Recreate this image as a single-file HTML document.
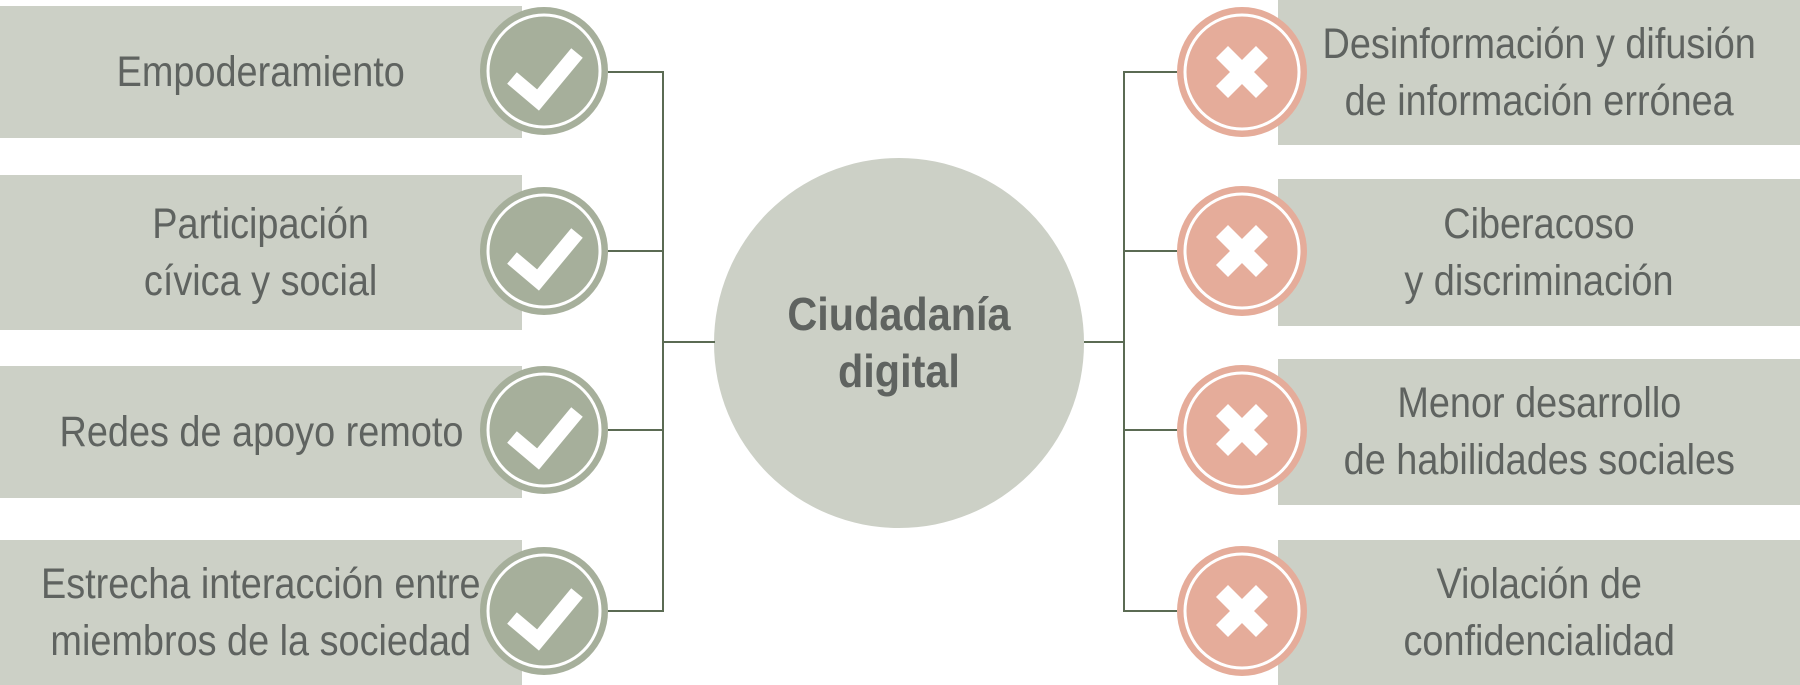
<!DOCTYPE html>
<html><head><meta charset="utf-8"><style>
body{margin:0;width:1800px;height:685px;background:#fff;overflow:hidden;position:relative;font-family:"Liberation Sans",sans-serif}
.b{position:absolute;background:#ccd0c6;color:#5f6360;font-size:43px;line-height:57px;text-align:center;display:flex;align-items:center;justify-content:center}
.b span{display:inline-block;transform:scaleX(0.88);white-space:nowrap}
.c{position:absolute;left:714px;top:158px;width:370px;height:370px;border-radius:50%;background:#ccd0c6;color:#5f6360;font-weight:bold;font-size:46px;line-height:57px;display:flex;align-items:center;justify-content:center;text-align:center}
.c span{display:inline-block;transform:scaleX(0.9)}
svg{position:absolute;left:0;top:0}
</style></head><body>
<div class="b" style="left:0;top:6px;width:522px;height:132px"><span>Empoderamiento</span></div>
<div class="b" style="left:0;top:175px;width:522px;height:155px"><span>Participación<br>cívica y social</span></div>
<div class="b" style="left:0;top:366px;width:522px;height:132px"><span>Redes de apoyo remoto</span></div>
<div class="b" style="left:0;top:540px;width:522px;height:145px"><span>Estrecha interacción entre<br>miembros de la sociedad</span></div>
<div class="b" style="left:1278px;top:0;width:522px;height:145px"><span>Desinformación y difusión<br>de información errónea</span></div>
<div class="b" style="left:1278px;top:179px;width:522px;height:147px"><span>Ciberacoso<br>y discriminación</span></div>
<div class="b" style="left:1278px;top:359px;width:522px;height:146px"><span>Menor desarrollo<br>de habilidades sociales</span></div>
<div class="b" style="left:1278px;top:540px;width:522px;height:145px"><span>Violación de<br>confidencialidad</span></div>
<div class="c"><span>Ciudadanía<br>digital</span></div>
<svg width="1800" height="685">
<defs>
<g id="ck"><circle r="64" fill="#a6af9b"/><circle r="56" fill="none" stroke="#fff" stroke-width="3"/><polyline points="-32,7 -6,29 33,-18" fill="none" stroke="#fff" stroke-width="15"/></g>
<g id="xx"><circle r="65" fill="#e5ac9a"/><circle r="57" fill="none" stroke="#fff" stroke-width="3"/><path d="M-20,-20L20,20M20,-20L-20,20" stroke="#fff" stroke-width="17"/></g>
</defs>
<g stroke="#5b6b53" stroke-width="2" fill="none">
<path d="M608,72H663V611H608M608,251H663M608,430H663M663,342H715"/>
<path d="M1177,72H1124V611H1177M1177,251H1124M1177,430H1124M1124,342H1084"/>
</g>
<use href="#ck" x="544" y="71"/><use href="#ck" x="544" y="251"/><use href="#ck" x="544" y="430"/><use href="#ck" x="544" y="611"/>
<use href="#xx" x="1242" y="72"/><use href="#xx" x="1242" y="251"/><use href="#xx" x="1242" y="430"/><use href="#xx" x="1242" y="611"/>
</svg>
</body></html>
